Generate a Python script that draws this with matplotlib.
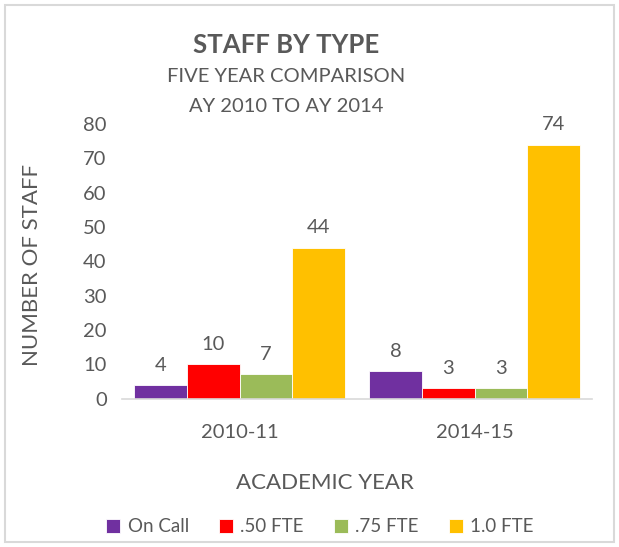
import numpy as np
import matplotlib.pyplot as plt
from matplotlib.patches import Rectangle

plt.rcParams['font.family'] = ['Lato', 'DejaVu Sans']

# data
tahun = ['2010-11', '2014-15']
seri = ['On Call', '.50 FTE', '.75 FTE', '1.0 FTE']
nilai = {
    'On Call': [4, 8],
    '.50 FTE': [10, 3],
    '.75 FTE': [7, 3],
    '1.0 FTE': [44, 74],
}
warna = ['#7030A0', '#FF0000', '#9BBB59', '#FFC000']
abu = '#595959'

W, H = 619, 547
fig = plt.figure(figsize=(W / 100, H / 100), dpi=100)
ax = fig.add_axes([122 / W, 1 - 398.5 / H, (592 - 122) / W, (398.5 - 124) / H])

# border
fig.patches.append(Rectangle((5 / W, 5 / H), 609 / W, 537 / H, transform=fig.transFigure,
                             fill=False, edgecolor='#D9D9D9', linewidth=1.5))

x = np.arange(len(tahun))
lebar = 0.2235
for i, (s, c) in enumerate(zip(seri, warna)):
    pos = x + (i - 1.5) * lebar
    bars = ax.bar(pos, nilai[s], width=lebar, color=c, edgecolor='white', linewidth=0.6, label=s)
    ax.bar_label(bars, padding=8, fontsize=14.5, color=abu)

ax.set_xlim(-0.5, 1.5)
ax.set_ylim(0, 80)
ax.set_yticks(range(0, 81, 10))
ax.set_xticks(x)
ax.set_xticklabels(tahun)
ax.tick_params(length=0, labelsize=14.5, labelcolor=abu)
ax.tick_params(axis='x', pad=18)
ax.tick_params(axis='y', pad=11)
for sp in ['top', 'right', 'left']:
    ax.spines[sp].set_visible(False)
ax.spines['bottom'].set_color('#D9D9D9')
ax.spines['bottom'].set_linewidth(1.2)

fig.text(286 / W, 1 - 45 / H, 'STAFF BY TYPE', ha='center', va='center',
         fontsize=18.5, fontweight='bold', color=abu)
fig.text(286 / W, 1 - 77 / H, 'FIVE YEAR COMPARISON', ha='center', va='center',
         fontsize=14.5, color=abu)
fig.text(286 / W, 1 - 106 / H, 'AY 2010 TO AY 2014', ha='center', va='center',
         fontsize=14.5, color=abu)
fig.text(32 / W, 1 - 265 / H, 'NUMBER OF STAFF', ha='center', va='center',
         rotation=90, fontsize=16, color=abu)
fig.text(325 / W, 1 - 483 / H, 'ACADEMIC YEAR', ha='center', va='center',
         fontsize=16, color=abu)

fig.legend(loc='center', bbox_to_anchor=(320 / W, 1 - 527 / H), ncol=4, frameon=False,
           fontsize=13.5, labelcolor=abu, handlelength=0.75, handleheight=0.75,
           handletextpad=0.4, columnspacing=1.6)

fig.savefig('out.png', dpi=100)
